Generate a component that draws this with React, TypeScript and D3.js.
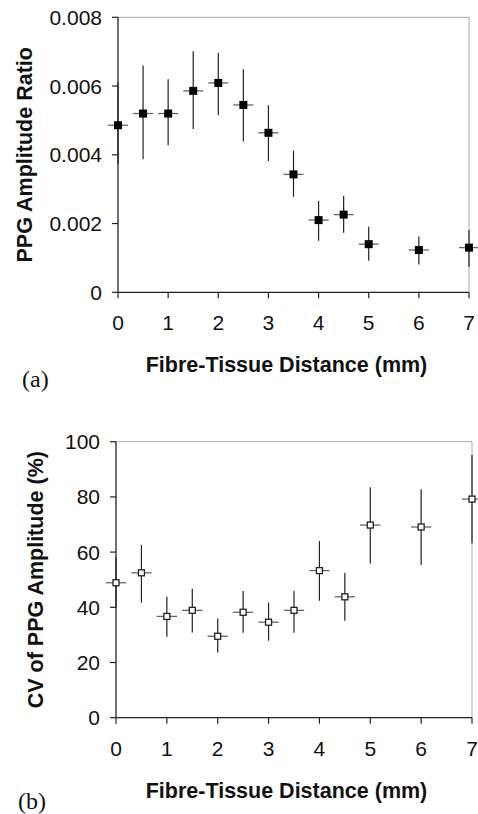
import React from "react";
import * as d3 from "d3";

const distances = [0, 0.5, 1, 1.5, 2, 2.5, 3, 3.5, 4, 4.5, 5, 6, 7];
const distanceErr = [0.2, 0.2, 0.2, 0.2, 0.2, 0.2, 0.2, 0.2, 0.2, 0.2, 0.2, 0.2, 0.2];

const ratioMean = [0.00486, 0.0052, 0.0052, 0.00586, 0.00609, 0.00545, 0.00464, 0.00343, 0.0021, 0.00226, 0.0014, 0.00123, 0.0013];
const ratioUpper = [0.00611, 0.0066, 0.0062, 0.00701, 0.00697, 0.00649, 0.00544, 0.00412, 0.00266, 0.0028, 0.00191, 0.00162, 0.00181];
const ratioLower = [0.00373, 0.00387, 0.00428, 0.00475, 0.00515, 0.00439, 0.00382, 0.00278, 0.0015, 0.00173, 0.00092, 0.00081, 0.00074];

const cvMean = [48.9, 52.5, 36.7, 38.9, 29.5, 38.2, 34.6, 38.9, 53.3, 43.8, 69.8, 69.1, 79.2];
const cvUpper = [58, 62.6, 43.8, 46.7, 35.9, 45.9, 41.7, 45.9, 64.0, 52.5, 83.5, 82.8, 95.2];
const cvLower = [40, 41.7, 29.3, 30.9, 23.6, 30.8, 27.9, 30.8, 42.4, 35.1, 55.9, 55.3, 63.2];

const xTicks = [0, 1, 2, 3, 4, 5, 6, 7];
const ratioTicks = [0, 0.002, 0.004, 0.006, 0.008];
const ratioTickLabels = ["0", "0.002", "0.004", "0.006", "0.008"];
const cvTicks = [0, 20, 40, 60, 80, 100];
const cvTickLabels = ["0", "20", "40", "60", "80", "100"];

const xTitle = "Fibre-Tissue Distance (mm)";
const ratioTitle = "PPG Amplitude Ratio";
const cvTitle = "CV of PPG Amplitude (%)";

const SANS = "Liberation Sans";
const SERIF = "Liberation Serif";

type PanelProps = {
  x: d3.ScaleLinear<number, number>;
  y: d3.ScaleLinear<number, number>;
  yTicks: number[];
  yTickLabels: string[];
  mean: number[];
  upper: number[];
  lower: number[];
  filled: boolean;
  markerSize: number;
  yTitle: string;
  yTitleX: number;
  xTickBaseline: number;
  xTitleX: number;
  xTitleBaseline: number;
  label: string;
  labelX: number;
  labelY: number;
};

function Panel(p: PanelProps) {
  const [x0, x1] = p.x.range();
  const [yb, yt] = p.y.range();
  const ms = p.markerSize;
  return (
    <g>
      <line x1={x0} x2={x1} y1={yt} y2={yt} stroke="#aaa" strokeWidth={1} />
      <line x1={x1} x2={x1} y1={yt} y2={yb} stroke="#aaa" strokeWidth={1} />
      {distances.map((d, i) => (
        <g key={i}>
          <line
            x1={p.x(d - distanceErr[i])}
            x2={p.x(d + distanceErr[i])}
            y1={p.y(p.mean[i])}
            y2={p.y(p.mean[i])}
            stroke="#666"
            strokeWidth={1.3}
          />
          <line
            x1={p.x(d)}
            x2={p.x(d)}
            y1={p.y(p.upper[i])}
            y2={p.y(p.lower[i])}
            stroke="#222"
            strokeWidth={1.2}
          />
        </g>
      ))}
      <line x1={x0} x2={x0} y1={yt} y2={yb} stroke="#222" strokeWidth={1.3} />
      <line x1={x0} x2={x1} y1={yb} y2={yb} stroke="#222" strokeWidth={1.3} />
      {distances.map((d, i) => (
        <rect
          key={"m" + i}
          x={p.x(d) - ms / 2}
          y={p.y(p.mean[i]) - ms / 2}
          width={ms}
          height={ms}
          fill={p.filled ? "#000" : "#fff"}
          stroke={p.filled ? "none" : "#222"}
          strokeWidth={p.filled ? 0 : 1.3}
        />
      ))}
      {p.yTicks.map((t, i) => (
        <g key={"yt" + i}>
          <line x1={x0 - 6} x2={x0} y1={p.y(t)} y2={p.y(t)} stroke="#222" strokeWidth={1.2} />
          <text
            x={x0 - 16}
            y={p.y(t)}
            dy="0.36em"
            textAnchor="end"
            style={{ fontFamily: SANS, fontSize: 21 }}
            fill="#111"
          >
            {p.yTickLabels[i]}
          </text>
        </g>
      ))}
      {xTicks.map((t, i) => (
        <g key={"xt" + i}>
          <line x1={p.x(t)} x2={p.x(t)} y1={yb} y2={yb + 6} stroke="#222" strokeWidth={1.2} />
          <text
            x={p.x(t)}
            y={p.xTickBaseline}
            textAnchor="middle"
            style={{ fontFamily: SANS, fontSize: 21 }}
            fill="#111"
          >
            {t}
          </text>
        </g>
      ))}
      <text
        x={p.xTitleX}
        y={p.xTitleBaseline}
        textAnchor="middle"
        style={{ fontFamily: SANS, fontSize: 21.5, fontWeight: "bold" }}
        fill="#111"
      >
        {xTitle}
      </text>
      <text
        transform={`translate(${p.yTitleX},${(yt + yb) / 2}) rotate(-90)`}
        textAnchor="middle"
        style={{ fontFamily: SANS, fontSize: 21.5, fontWeight: "bold" }}
        fill="#111"
      >
        {p.yTitle}
      </text>
      <text x={p.labelX} y={p.labelY} style={{ fontFamily: SERIF, fontSize: 24 }} fill="#111">
        {p.label}
      </text>
    </g>
  );
}

export default function App() {
  const xTop = d3.scaleLinear().domain([0, 7]).range([118, 469]);
  const yTop = d3.scaleLinear().domain([0, 0.008]).range([292.3, 17.3]);
  const xBot = d3.scaleLinear().domain([0, 7]).range([116, 472]);
  const yBot = d3.scaleLinear().domain([0, 100]).range([717.7, 441.7]);
  return (
    <svg
      width={478}
      height={814}
      style={{ position: "absolute", left: 0, top: 0, background: "#fff" }}
    >
      <rect x={0} y={0} width={478} height={814} fill="#fff" />
      <Panel
        x={xTop}
        y={yTop}
        yTicks={ratioTicks}
        yTickLabels={ratioTickLabels}
        mean={ratioMean}
        upper={ratioUpper}
        lower={ratioLower}
        filled={true}
        markerSize={8}
        yTitle={ratioTitle}
        yTitleX={31.5}
        xTickBaseline={330}
        xTitleX={286.5}
        xTitleBaseline={371.5}
        label="(a)"
        labelX={22}
        labelY={387}
      />
      <Panel
        x={xBot}
        y={yBot}
        yTicks={cvTicks}
        yTickLabels={cvTickLabels}
        mean={cvMean}
        upper={cvUpper}
        lower={cvLower}
        filled={false}
        markerSize={6}
        yTitle={cvTitle}
        yTitleX={42.5}
        xTickBaseline={756}
        xTitleX={286.5}
        xTitleBaseline={798.3}
        label="(b)"
        labelX={18}
        labelY={809}
      />
    </svg>
  );
}
